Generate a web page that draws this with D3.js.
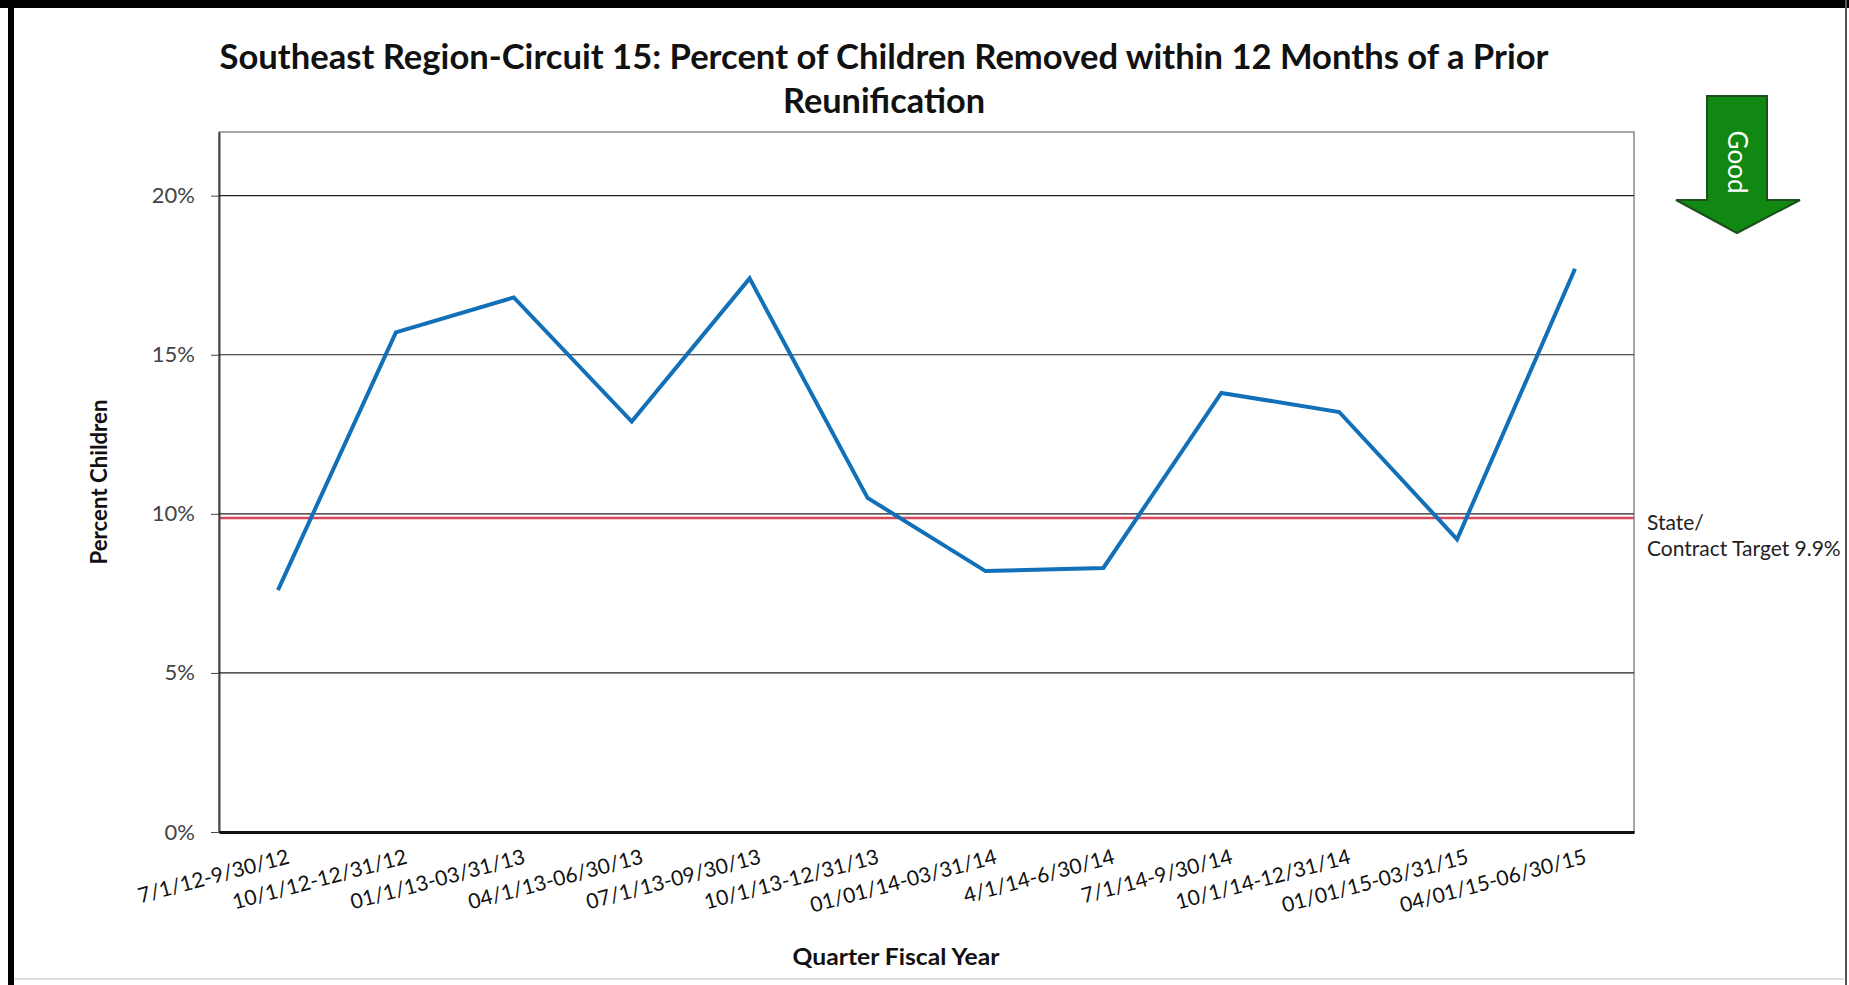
<!DOCTYPE html>
<html>
<head>
<meta charset="utf-8">
<script src="https://cdn.jsdelivr.net/npm/d3@7"></script>
<style>
  html, body { margin: 0; padding: 0; background: #fff; }
  svg { display: block; }
</style>
</head>
<body>
<div id="chart"></div>
<script>
// data
const quarters = ["7/1/12-9/30/12", "10/1/12-12/31/12", "01/1/13-03/31/13", "04/1/13-06/30/13",
    "07/1/13-09/30/13", "10/1/13-12/31/13", "01/01/14-03/31/14", "4/1/14-6/30/14",
    "7/1/14-9/30/14", "10/1/14-12/31/14", "01/01/15-03/31/15", "04/01/15-06/30/15"];
const pctRemoved = [7.6, 15.7, 16.8, 12.9, 17.4, 10.5, 8.2, 8.3, 13.8, 13.2, 9.2, 17.7];
const yTicks = [0, 5, 10, 15, 20];
const target = 9.9;
const titleLines = ["Southeast Region-Circuit 15: Percent of Children Removed within 12 Months of a Prior", "Reunification"];

const W = 1849, H = 985;
const plot = { left: 219, right: 1634, top: 132, bottom: 832 };

const svg = d3.select("#chart").append("svg")
    .attr("width", W)
    .attr("height", H)
    .style("font-family", "Lato, 'Open Sans', sans-serif");

// outer frame
svg.append("rect").attr("x", 0).attr("y", 0).attr("width", W).attr("height", H).attr("fill", "#fff");
svg.append("rect").attr("x", 0).attr("y", 0).attr("width", W).attr("height", 8).attr("fill", "#000");
svg.append("rect").attr("x", 8).attr("y", 0).attr("width", 6).attr("height", H).attr("fill", "#000");
svg.append("rect").attr("x", 1845).attr("y", 0).attr("width", 2).attr("height", H).attr("fill", "#555");
svg.append("rect").attr("x", 14).attr("y", 978).attr("width", 1830).attr("height", 2).attr("fill", "#ddd");

const x = d3.scalePoint().domain(quarters).range([plot.left, plot.right]).padding(0.5);
const y = d3.scaleLinear().domain([0, 22]).range([plot.bottom, plot.top]);

// title
const titleWidths = [1329, 202];
const title_g = svg.append("g").attr("class", "title_g");
title_g.selectAll("text").data(titleLines).join("text")
    .attr("x", 884)
    .attr("y", (d, i) => 69 + i * 44)
    .attr("text-anchor", "middle")
    .attr("font-size", 34)
    .attr("font-weight", "bold")
    .attr("fill", "#111")
    .attr("textLength", (d, i) => titleWidths[i])
    .attr("lengthAdjust", "spacingAndGlyphs")
    .text(d => d);

// plot box
svg.append("rect")
    .attr("x", plot.left).attr("y", plot.top)
    .attr("width", plot.right - plot.left).attr("height", plot.bottom - plot.top)
    .attr("fill", "none").attr("stroke", "#8a8a8a").attr("stroke-width", 1.5);

// target line sits just below the 10% grid line
svg.append("line")
    .attr("x1", plot.left).attr("x2", plot.right)
    .attr("y1", y(target) + 1).attr("y2", y(target) + 1)
    .attr("stroke", "#d8485a").attr("stroke-width", 2.5);

// y axis with grid
const yAxis_g = svg.append("g").attr("class", "y_axis")
    .attr("transform", "translate(" + plot.left + ",0)")
    .call(d3.axisLeft(y).tickValues(yTicks).tickSizeInner(8).tickSizeOuter(0).tickPadding(16).tickFormat(d => d + "%"));
yAxis_g.select(".domain").attr("stroke", "#444").attr("stroke-width", 2);
yAxis_g.selectAll(".tick line").attr("stroke", "#444");
yAxis_g.selectAll(".tick text").attr("font-size", 22).attr("fill", "#444").attr("font-family", "Lato, sans-serif");

const grid_g = svg.append("g").attr("class", "grid");
grid_g.selectAll("line").data(yTicks.filter(d => d > 0)).join("line")
    .attr("x1", plot.left).attr("x2", plot.right)
    .attr("y1", d => y(d)).attr("y2", d => y(d))
    .attr("stroke", "#222").attr("stroke-width", 1.2);

// x axis
const xAxis_g = svg.append("g").attr("class", "x_axis")
    .attr("transform", "translate(0," + plot.bottom + ")")
    .call(d3.axisBottom(x).tickSize(0).tickPadding(0));
xAxis_g.select(".domain").attr("stroke", "#111").attr("stroke-width", 3);
xAxis_g.selectAll(".tick text")
    .attr("font-size", 21)
    .attr("fill", "#111")
    .attr("font-family", "Lato, sans-serif")
    .attr("text-anchor", "end")
    .attr("dy", "0")
    .attr("transform", "translate(12,31) rotate(-15)");

// series
const line = d3.line()
    .x((d, i) => x(quarters[i]))
    .y(d => y(d));
svg.append("path")
    .datum(pctRemoved)
    .attr("fill", "none")
    .attr("stroke", "#1170b8")
    .attr("stroke-width", 4)
    .attr("stroke-linejoin", "miter")
    .attr("d", line);

// axis titles
svg.append("text")
    .attr("transform", "translate(107," + ((plot.top + plot.bottom) / 2) + ") rotate(-90)")
    .attr("text-anchor", "middle")
    .attr("font-size", 22)
    .attr("font-weight", "bold")
    .attr("fill", "#111")
    .attr("textLength", 165)
    .attr("lengthAdjust", "spacingAndGlyphs")
    .text("Percent Children");

svg.append("text")
    .attr("x", 896).attr("y", 965)
    .attr("text-anchor", "middle")
    .attr("font-size", 23)
    .attr("font-weight", "bold")
    .attr("fill", "#111")
    .attr("textLength", 207)
    .attr("lengthAdjust", "spacingAndGlyphs")
    .text("Quarter Fiscal Year");

// target label
const target_g = svg.append("g").attr("class", "target_label");
target_g.selectAll("text").data(["State/", "Contract Target " + target + "%"]).join("text")
    .attr("x", 1647)
    .attr("y", (d, i) => 530 + i * 26)
    .attr("font-size", 21)
    .attr("fill", "#222")
    .text(d => d);

// "Good" arrow
const arrow_g = svg.append("g").attr("class", "good_arrow");
const ax = 1737;
arrow_g.append("path")
    .attr("d", "M" + (ax - 30) + ",96 H" + (ax + 30) + " V200 H" + (ax + 63) + " L" + ax + ",233 L" + (ax - 61) + ",200 H" + (ax - 30) + " Z")
    .attr("fill", "#118811")
    .attr("stroke", "#1d4f1d")
    .attr("stroke-width", 2);
arrow_g.append("text")
    .attr("transform", "translate(" + ax + ",162) rotate(90)")
    .attr("text-anchor", "middle")
    .attr("dy", "0.35em")
    .attr("font-size", 26)
    .attr("fill", "#fff")
    .text("Good");
</script>
</body>
</html>
